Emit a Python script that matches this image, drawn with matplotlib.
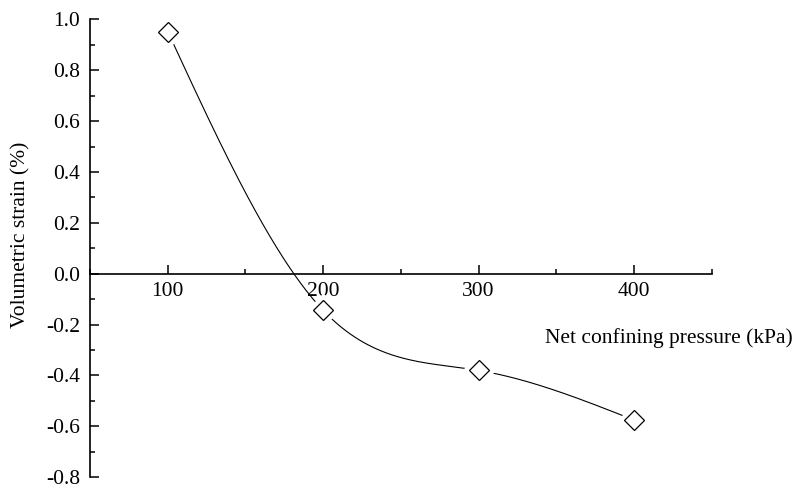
import numpy as np
import matplotlib
matplotlib.use("Agg")
import matplotlib.pyplot as plt
from matplotlib.ticker import MultipleLocator, FormatStrFormatter

# net confining pressure (kPa) and volumetric strain (%)
pressure = [100, 200, 300, 400]
strain = [0.952, -0.144, -0.380, -0.575]

X_LABEL = "Net confining pressure (kPa)"
Y_LABEL = "Volumetric strain (%)"


def natural_spline(x, y, n=400):
    """Smooth connecting line through the points (natural cubic spline)."""
    x = np.asarray(x, float)
    y = np.asarray(y, float)
    k = len(x)
    h = np.diff(x)
    A = np.zeros((k, k))
    b = np.zeros(k)
    A[0, 0] = A[-1, -1] = 1
    for i in range(1, k - 1):
        A[i, i - 1] = h[i - 1]
        A[i, i] = 2 * (h[i - 1] + h[i])
        A[i, i + 1] = h[i]
        b[i] = 6 * ((y[i + 1] - y[i]) / h[i] - (y[i] - y[i - 1]) / h[i - 1])
    m = np.linalg.solve(A, b)
    xs = np.linspace(x[0], x[-1], n)
    idx = np.clip(np.searchsorted(x, xs) - 1, 0, k - 2)
    x0, x1 = x[idx], x[idx + 1]
    hh = x1 - x0
    a = (x1 - xs) / hh
    c = (xs - x0) / hh
    ys = (a * y[idx] + c * y[idx + 1]
          + ((a ** 3 - a) * m[idx] + (c ** 3 - c) * m[idx + 1]) * hh ** 2 / 6)
    return xs, ys


plt.rcParams["font.family"] = ["Liberation Serif", "DejaVu Serif"]
plt.rcParams["font.size"] = 15.5

fig = plt.figure(figsize=(7.94, 4.90), dpi=100)
ax = fig.add_axes([0.1134, 0.026, 0.7829, 0.9346])

xs, ys = natural_spline(pressure, strain)
ax.plot(xs, ys, color="black", lw=0.8, zorder=2)
# white halo so the line stops short of each marker
ax.plot(pressure, strain, ls="none", marker="D", ms=16, mfc="white",
        mec="white", zorder=3)
ax.plot(pressure, strain, ls="none", marker="D", ms=10.5, mfc="white",
        mec="black", mew=0.9, zorder=4)

ax.set_xlim(50, 450)
ax.set_ylim(-0.8, 1.0)

for s in ("top", "right"):
    ax.spines[s].set_visible(False)
ax.spines["bottom"].set_position(("data", 0))
ax.spines["left"].set_linewidth(1.2)
ax.spines["bottom"].set_linewidth(1.2)

ax.xaxis.set_major_locator(MultipleLocator(100))
ax.xaxis.set_minor_locator(MultipleLocator(50))
ax.yaxis.set_major_locator(MultipleLocator(0.2))
ax.yaxis.set_minor_locator(MultipleLocator(0.1))
ax.set_xticks([100, 200, 300, 400])
ax.yaxis.set_major_formatter(FormatStrFormatter("%.1f"))

ax.tick_params(axis="x", which="major", direction="in", length=6.5, width=1.1, pad=6)
ax.tick_params(axis="x", which="minor", direction="in", length=3.5, width=1.1)
ax.tick_params(axis="y", which="major", direction="in", length=6.5, width=1.1, pad=7)
ax.tick_params(axis="y", which="minor", direction="in", length=3.5, width=1.1)

fig.text(0.998, 0.31, X_LABEL, ha="right", va="center", fontsize=15.5)
fig.text(0.026, 0.52, Y_LABEL, ha="center", va="center", rotation=90, fontsize=15.5)

fig.savefig("out.png", dpi=100)
